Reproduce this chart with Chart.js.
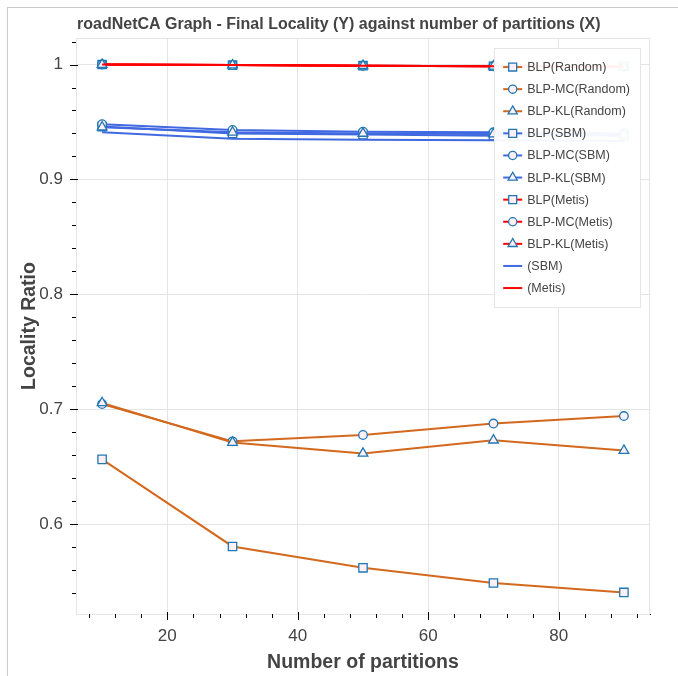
<!DOCTYPE html>
<html><head><meta charset="utf-8">
<script src="https://cdn.jsdelivr.net/npm/chart.js@4.4.0/dist/chart.umd.min.js"></script>
<style>
html,body{margin:0;padding:0;background:#fff;}
#wrap{position:relative;width:678px;height:676px;overflow:hidden;}
#c{position:absolute;left:0;top:0;}
#frame{position:absolute;left:7px;top:7px;width:700px;height:700px;border-left:1px solid #cccccc;border-top:1px solid #cccccc;pointer-events:none;}
</style></head><body>
<div id="wrap"><canvas id="c" width="678" height="676"></canvas><div id="frame"></div></div>
<script>
// ---- data ----
const chartTitle = "roadNetCA Graph - Final Locality (Y) against number of partitions (X)";
const xTitle = "Number of partitions";
const yTitle = "Locality Ratio";
const partitions = [10, 30, 50, 70, 90];
const xTickValues = [20, 40, 60, 80];
const yTickValues = [0.6, 0.7, 0.8, 0.9, 1.0];
const seriesNames = ["BLP(Random)", "BLP-MC(Random)", "BLP-KL(Random)",
  "BLP(SBM)", "BLP-MC(SBM)", "BLP-KL(SBM)",
  "BLP(Metis)", "BLP-MC(Metis)", "BLP-KL(Metis)", "(SBM)", "(Metis)"];
const blpRandom   = [0.6563, 0.5805, 0.5619, 0.5487, 0.5405];
const blpMcRandom = [0.7045, 0.6720, 0.6775, 0.6875, 0.6940];
const blpKlRandom = [0.7055, 0.6710, 0.6615, 0.6730, 0.6640];
const blpSbm      = [0.9460, 0.9400, 0.9390, 0.9380, 0.9380];
const blpMcSbm    = [0.9480, 0.9430, 0.9415, 0.9410, 0.9400];
const blpKlSbm    = [0.9455, 0.9410, 0.9400, 0.9395, 0.9390];
const blpMetis    = [1.0000, 0.9995, 0.9990, 0.9985, 0.9985];
const blpMcMetis  = [1.0000, 0.9995, 0.9990, 0.9985, 0.9980];
const blpKlMetis  = [1.0000, 0.9995, 0.9990, 0.9985, 0.9980];
const baseSbm     = [0.9410, 0.9355, 0.9345, 0.9340, 0.9335];
const baseMetis   = [1.0000, 0.9995, 0.9990, 0.9985, 0.9980];
const seriesValues = [blpRandom, blpMcRandom, blpKlRandom, blpSbm, blpMcSbm, blpKlSbm,
  blpMetis, blpMcMetis, blpKlMetis, baseSbm, baseMetis];

// ---- styles ----
const ORANGE = "#D2691E", BLUE = "#4169E1", RED = "#FF0000";
const seriesColors = [ORANGE, ORANGE, ORANGE, BLUE, BLUE, BLUE, RED, RED, RED, BLUE, RED];
const seriesMarkers = ["rect", "circle", "triangle", "rect", "circle", "triangle", "rect", "circle", "triangle", null, null];
const markerRadius = {rect: 5.9, circle: 4.3, triangle: 5.6};
const MARK_FILL = "#fff0f5", MARK_LINE = "#1f77b4";
const FONT = "'Liberation Sans', Arial, Helvetica, sans-serif";

const datasets = seriesNames.map((name, i) => ({
  label: name,
  data: partitions.map((x, j) => ({x: x, y: seriesValues[i][j]})),
  borderColor: seriesColors[i],
  backgroundColor: seriesColors[i],
  borderWidth: 2,
  pointStyle: seriesMarkers[i] || false,
  pointRadius: seriesMarkers[i] ? markerRadius[seriesMarkers[i]] : 0,
  pointHoverRadius: seriesMarkers[i] ? markerRadius[seriesMarkers[i]] : 0,
  pointBackgroundColor: MARK_FILL,
  pointBorderColor: MARK_LINE,
  pointBorderWidth: 1.3,
  tension: 0,
  fill: false,
  order: seriesNames.length - i
}));

function drawMarker(ctx, style, r, x, y) {
  if (Chart.helpers && Chart.helpers.drawPoint) {
    Chart.helpers.drawPoint(ctx, {pointStyle: style, radius: r, rotation: 0, borderWidth: 1.3}, x, y);
    return;
  }
  ctx.beginPath();
  if (style === 'rect') { const s = r * Math.SQRT1_2; ctx.rect(x - s, y - s, 2 * s, 2 * s); }
  else if (style === 'circle') { ctx.arc(x, y, r, 0, Math.PI * 2); }
  else { ctx.moveTo(x, y - r); ctx.lineTo(x + r * 0.866, y + r / 2); ctx.lineTo(x - r * 0.866, y + r / 2); ctx.closePath(); }
  ctx.fill(); ctx.stroke();
}

const bokehPlugin = {
  id: 'bokehStyle',
  beforeDatasetsDraw(chart) {
    const {ctx, chartArea: a} = chart;
    ctx.save();
    ctx.strokeStyle = "#e5e5e5"; ctx.lineWidth = 1;
    ctx.strokeRect(a.left + 0.5, a.top + 0.5, a.right - a.left - 1, a.bottom - a.top);
    ctx.restore();
  },
  afterDraw(chart) {
    const {ctx, chartArea: a, scales} = chart;
    const xs = scales.x, ys = scales.y;
    ctx.save();
    // tick marks
    ctx.strokeStyle = "#000"; ctx.lineWidth = 1;
    ctx.beginPath();
    for (let v = 8; v <= 92; v += 4) {
      const px = Math.round(xs.getPixelForValue(v)) + 0.5;
      const major = v % 20 === 0;
      ctx.moveTo(px, a.bottom + (major ? -2 : 0));
      ctx.lineTo(px, a.bottom + (major ? 6 : 4));
    }
    for (let k = 54; k <= 102; k += 2) {
      const py = Math.round(ys.getPixelForValue(k / 100)) + 0.5;
      const major = k % 10 === 0;
      ctx.moveTo(a.left + (major ? 2 : 0), py);
      ctx.lineTo(a.left - (major ? 6 : 4), py);
    }
    ctx.stroke();
    // title
    ctx.fillStyle = "#444";
    ctx.font = "bold 16px " + FONT;
    ctx.textAlign = "left"; ctx.textBaseline = "middle";
    ctx.fillText(chartTitle, a.left + 1, 25);
    // legend
    const LFONT = "12.5px " + FONT;
    ctx.font = LFONT;
    let maxW = 0;
    seriesNames.forEach(n => { maxW = Math.max(maxW, ctx.measureText(n).width); });
    const rowH = 22.1, padT = 8, padL = 9;
    const w = padL + 19 + 5 + maxW + 10;
    const h = padT * 2 + rowH * seriesNames.length;
    const lx = a.right - 10 - w, ly = a.top + 10;
    ctx.globalAlpha = 0.95; ctx.fillStyle = "#fff";
    ctx.fillRect(lx, ly, w, h);
    ctx.globalAlpha = 1;
    ctx.strokeStyle = "#e5e5e5"; ctx.lineWidth = 1;
    ctx.strokeRect(Math.round(lx) + 0.5, Math.round(ly) + 0.5, Math.round(w), Math.round(h));
    seriesNames.forEach((n, i) => {
      const cy = ly + padT + rowH * (i + 0.5);
      const gx = lx + padL;
      ctx.strokeStyle = seriesColors[i]; ctx.lineWidth = 2;
      ctx.beginPath(); ctx.moveTo(gx, cy); ctx.lineTo(gx + 19, cy); ctx.stroke();
      if (seriesMarkers[i]) {
        ctx.fillStyle = MARK_FILL; ctx.strokeStyle = MARK_LINE; ctx.lineWidth = 1.3;
        drawMarker(ctx, seriesMarkers[i], markerRadius[seriesMarkers[i]] * 0.95, gx + 9.5, cy);
      }
      ctx.fillStyle = "#444"; ctx.font = LFONT;
      ctx.textAlign = "left"; ctx.textBaseline = "middle";
      ctx.fillText(n, gx + 24, cy + 0.5);
    });
    ctx.restore();
  }
};

new Chart(document.getElementById('c'), {
  type: 'line',
  data: {datasets: datasets},
  plugins: [bokehPlugin],
  options: {
    responsive: false,
    animation: false,
    devicePixelRatio: 1,
    layout: {padding: {left: 0, right: 28, top: 38, bottom: 2}},
    plugins: {legend: {display: false}, title: {display: false}, tooltip: {enabled: false}},
    scales: {
      x: {
        type: 'linear', min: 6, max: 94,
        afterBuildTicks: s => { s.ticks = xTickValues.map(v => ({value: v})); },
        afterFit: s => { s.height = 60; },
        ticks: {color: "#444", font: {family: FONT, size: 17}, padding: 12, autoSkip: false, maxRotation: 0,
          callback: v => String(v)},
        grid: {color: "#e5e5e5", lineWidth: 1, drawTicks: false},
        border: {display: true, color: "#000", width: 1},
        title: {display: true, text: xTitle, color: "#444", font: {family: FONT, size: 19.5, weight: 'bold'}, padding: {top: 0, bottom: 0}}
      },
      y: {
        type: 'linear', min: 0.5217, max: 1.0231,
        afterBuildTicks: s => { s.ticks = yTickValues.map(v => ({value: v})); },
        afterFit: s => { s.width = 76; },
        ticks: {color: "#444", font: {family: FONT, size: 17}, padding: 13, autoSkip: false,
          callback: v => String(Math.round(v * 10) / 10)},
        grid: {color: "#e5e5e5", lineWidth: 1, drawTicks: false},
        border: {display: true, color: "#000", width: 1},
        title: {display: true, text: yTitle, color: "#444", font: {family: FONT, size: 19.5, weight: 'bold'}, padding: {top: 18, bottom: 0}}
      }
    }
  }
});
</script>
</body></html>
